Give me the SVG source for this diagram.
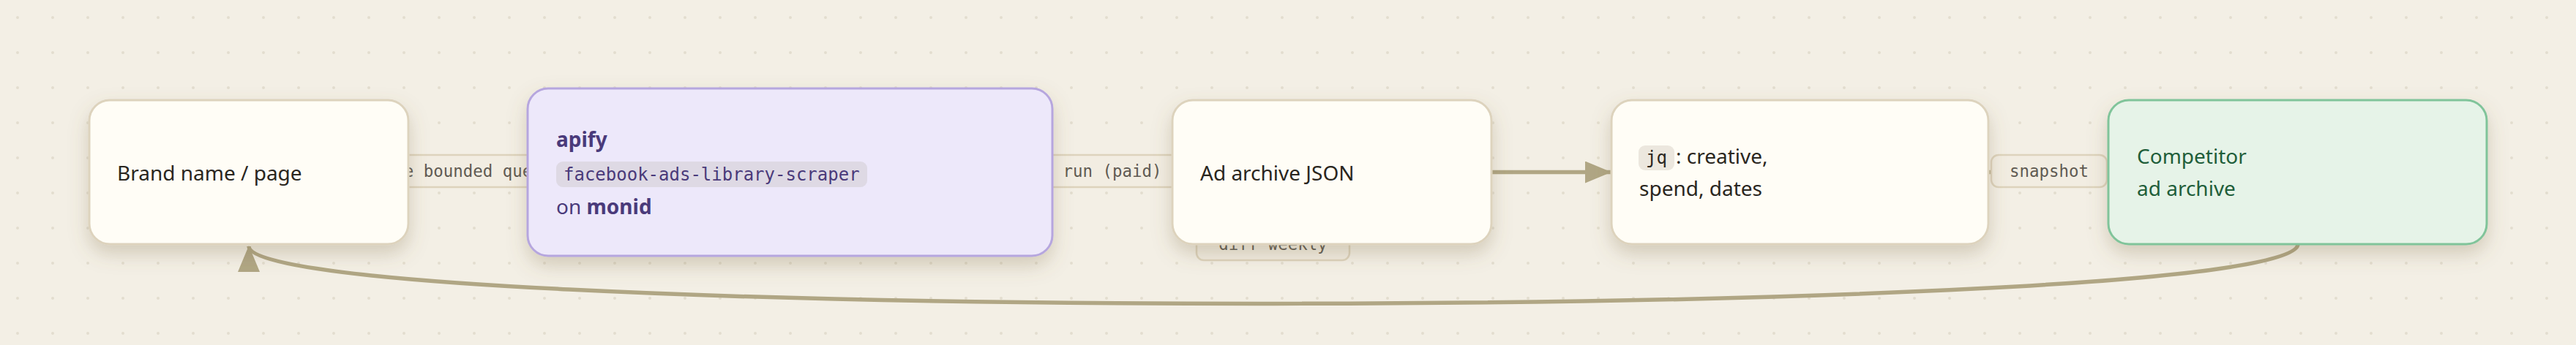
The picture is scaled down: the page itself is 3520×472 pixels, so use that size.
<svg xmlns="http://www.w3.org/2000/svg" width="3520" height="472" viewBox="0 0 3520 472">
<defs>
  <pattern id="dots" width="48" height="48" patternUnits="userSpaceOnUse">
    <circle cx="24" cy="24" r="2" fill="#e3ddcf"/>
  </pattern>
  <filter id="shadow" x="-20%" y="-30%" width="140%" height="190%">
    <feDropShadow dx="0" dy="12" stdDeviation="13" flood-color="#7a6a40" flood-opacity="0.27"/>
  </filter>
  <marker id="arrow" markerUnits="userSpaceOnUse" markerWidth="36" markerHeight="30" refX="35" refY="15" orient="auto">
    <path d="M0,0 L36,15 L0,30 z" fill="#b0a684"/>
  </marker>
  <style>
    .bg{fill:#f3efe5}
    .node{fill:#fffdf6;stroke:#ddd3bd;stroke-width:3}
    .purple{fill:#ede8fa;stroke:#b6a6de;stroke-width:3}
    .green{fill:#e6f3e8;stroke:#80c49a;stroke-width:3}
    .t{font-family:"Noto Sans","Open Sans","Liberation Sans",sans-serif;font-size:28px;fill:#2a2620}
    .tp{fill:#4a3a7a}
    .tg{fill:#1f5e3a}
    .b{font-weight:700}
    .mono{font-family:"DejaVu Sans Mono","Liberation Mono",monospace}
    .code{font-size:24px}
    .edge{fill:none;stroke:#b0a684;stroke-width:5.5}
    .lbox{fill:#f2ede2;stroke:#ddd3bd;stroke-width:2.5}
    .ltxt{font-family:"DejaVu Sans Mono","Liberation Mono",monospace;font-size:22.4px;fill:#5f5a52;text-anchor:middle}
  </style>
</defs>
<rect class="bg" x="0" y="0" width="3520" height="472"/>
<rect x="0" y="0" width="3520" height="472" fill="url(#dots)"/>

<g id="connectors">
  <path class="edge" d="M558,235.5 L721,235.5"/>
  <path class="edge" d="M1438,235.5 L1602,235.5"/>
  <path class="edge" d="M2038,235.5 L2201,235.5" marker-end="url(#arrow)"/>
  <path class="edge" d="M2717,235.5 L2881,235.5"/>
  <path class="edge" d="M3140,334 C3140,442 340,442 340,337" marker-end="url(#arrow)"/>
  <g id="labels">
    <rect class="lbox" x="500" y="212" width="279" height="44" rx="10"/>
    <text class="ltxt" x="639.5" y="242">one bounded query</text>
    <rect class="lbox" x="1424" y="212" width="192" height="44" rx="10"/>
    <text class="ltxt" x="1520" y="242">run (paid)</text>
    <rect class="lbox" x="2721" y="212" width="158" height="44" rx="10"/>
    <text class="ltxt" x="2800" y="242">snapshot</text>
    <rect class="lbox" x="1635" y="312" width="209" height="44" rx="10"/>
    <text class="ltxt" x="1739.5" y="342">diff weekly</text>
  </g>
</g>

<g id="node-brand">
  <rect class="node" x="122" y="137" width="436" height="197" rx="28" filter="url(#shadow)"/>
  <text class="t" x="160" y="247">Brand name / page</text>
</g>

<g id="node-apify">
  <rect class="purple" x="721" y="121" width="717" height="229" rx="28" filter="url(#shadow)"/>
  <text class="t tp b" x="760" y="201">apify</text>
  <rect x="760" y="221" width="425" height="35" rx="9" fill="#ded9e4"/>
  <text class="mono code tp" x="770" y="247">facebook-ads-library-scraper</text>
  <text class="t tp" x="760" y="293">on <tspan class="b">monid</tspan></text>
</g>

<g id="node-json">
  <rect class="node" x="1602" y="137" width="436" height="197" rx="28" filter="url(#shadow)"/>
  <text class="t" x="1640" y="247">Ad archive JSON</text>
</g>

<g id="node-jq">
  <rect class="node" x="2202" y="137" width="515" height="197" rx="28" filter="url(#shadow)"/>
  <rect x="2239" y="199" width="49" height="34" rx="9" fill="#ece7de"/>
  <text class="mono code" x="2249" y="224" fill="#2a2620">jq</text>
  <text class="t" x="2290" y="224">: creative,</text>
  <text class="t" x="2240" y="268">spend, dates</text>
</g>

<g id="node-archive">
  <rect class="green" x="2881" y="137" width="517" height="197" rx="28" filter="url(#shadow)"/>
  <text class="t tg" x="2920" y="224">Competitor</text>
  <text class="t tg" x="2920" y="268">ad archive</text>
</g>
</svg>
